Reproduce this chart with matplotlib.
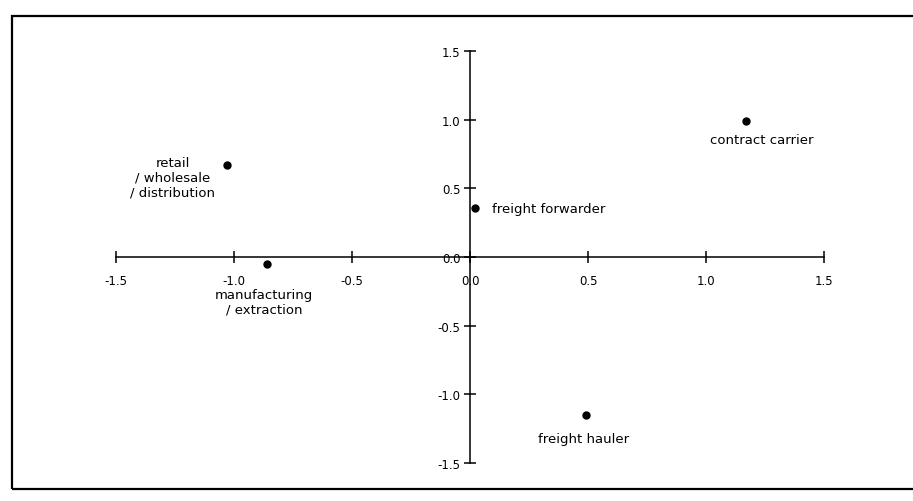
import matplotlib.pyplot as plt
from matplotlib.patches import Rectangle
from matplotlib.ticker import FixedLocator, FormatStrFormatter

plt.rcParams['font.family'] = ['DejaVu Sans']
plt.rcParams['axes.unicode_minus'] = False

labels = ["contract carrier", "retail\n/ wholesale\n/ distribution", "freight forwarder",
          "manufacturing\n/ extraction", "freight hauler"]
x_vals = [1.17, -1.03, 0.02, -0.86, 0.49]
y_vals = [0.99, 0.67, 0.36, -0.05, -1.15]
ticks = [-1.5, -1.0, -0.5, 0.0, 0.5, 1.0, 1.5]

# label offsets from the dot, in pixels
offsets = [(16, -18), (-54, -12), (17, -1), (-3, -38), (-2, -24)]
aligns = ["center", "center", "left", "center", "center"]

W, H = 913, 502
fig = plt.figure(figsize=(W / 100, H / 100), dpi=100)
ax = fig.add_axes([0, 0, 1, 1])
ax.patch.set_alpha(0)

# pixel position of origin and pixels per unit
x0, y0, sx, sy = 470, 258, 236, 137.3
ax.set_xlim(-x0 / sx, (W - x0) / sx)
ax.set_ylim((y0 - H) / sy, y0 / sy)

ax.plot(x_vals, y_vals, "o", color="black", ms=5)
for lab, x, y, off, ha in zip(labels, x_vals, y_vals, offsets, aligns):
    ax.annotate(lab, (x, y), xytext=off, textcoords="offset pixels",
                ha=ha, va="center", fontsize=9.5, linespacing=1.15, multialignment="center")

for side in ["top", "right"]:
    ax.spines[side].set_visible(False)
ax.spines["left"].set_position(("data", 0))
ax.spines["bottom"].set_position(("data", 0))
ax.spines["left"].set_bounds(-1.5, 1.5)
ax.spines["bottom"].set_bounds(-1.5, 1.5)
for side in ["left", "bottom"]:
    ax.spines[side].set_linewidth(1.1)

ax.xaxis.set_major_locator(FixedLocator(ticks))
ax.yaxis.set_major_locator(FixedLocator(ticks))
ax.xaxis.set_major_formatter(FormatStrFormatter("%.1f"))
ax.yaxis.set_major_formatter(FormatStrFormatter("%.1f"))
ax.tick_params(axis="x", direction="inout", length=8, width=1.1, pad=8, labelsize=8.5)
ax.tick_params(axis="y", direction="inout", length=8, width=1.1, pad=3, labelsize=8.5)

# outer frame of the figure box
fig.patches.append(Rectangle((12 / W, 1 - 490 / H), (W + 20 - 12) / W, (490 - 17) / H,
                             transform=fig.transFigure, fill=False, lw=1.6, color="black"))

fig.savefig("out.png", dpi=100)
